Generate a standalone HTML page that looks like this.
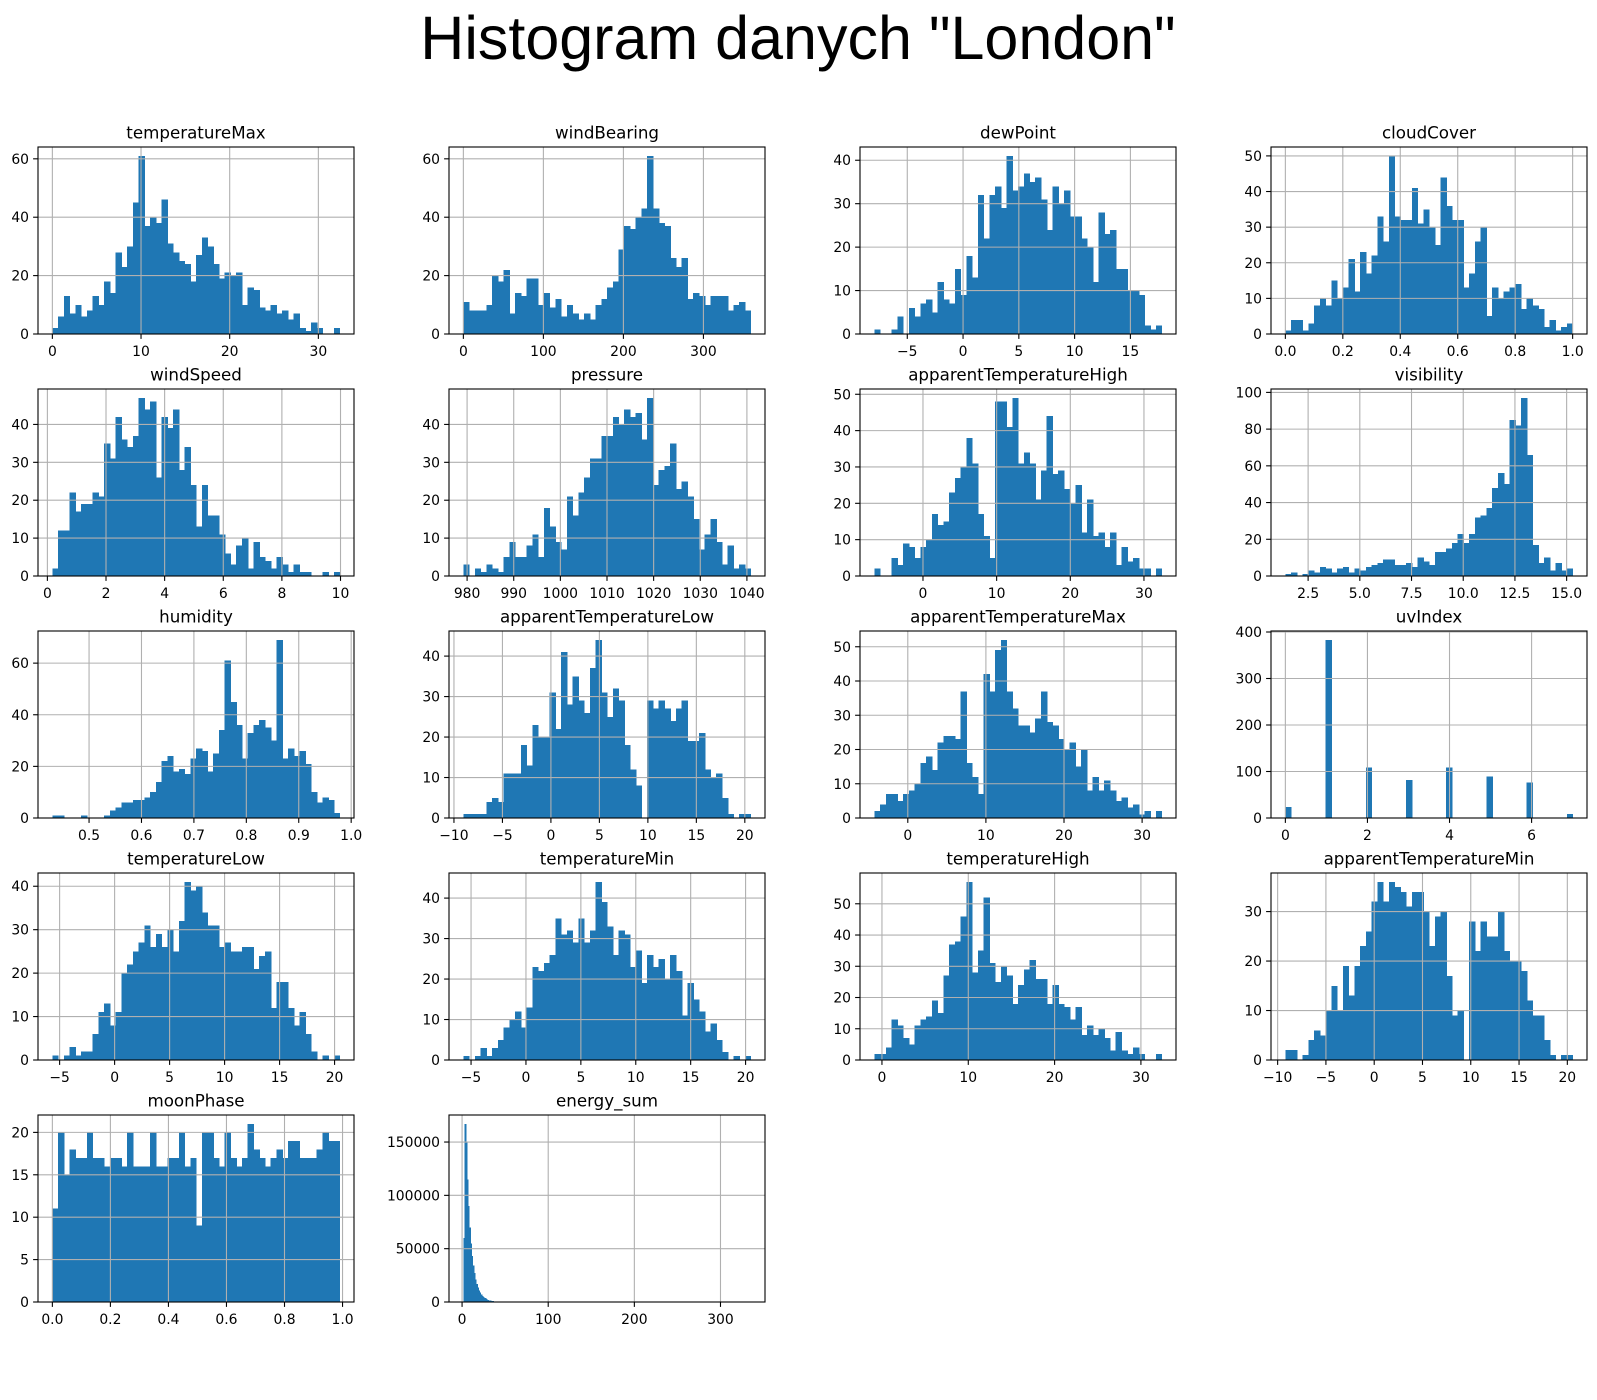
<!DOCTYPE html>
<html>
<head>
<meta charset="utf-8">
<style>
  html,body{margin:0;padding:0;background:#fff;}
  svg{display:block;}
  text{font-family:"DejaVu Sans","Liberation Sans",sans-serif;fill:#000;}
</style>
</head>
<body>
<svg id="fig" width="1597" height="1400" viewBox="0 0 1597 1400" xmlns="http://www.w3.org/2000/svg">
  <rect x="0" y="0" width="1597" height="1400" fill="#fff"/>
  <text x="798" y="59" text-anchor="middle" font-size="61" style="font-family:'Liberation Sans',sans-serif">Histogram danych "London"</text>
</svg>
<script>
// ---- data (counts per bin, bin range, ticks) ----
const titles = ["temperatureMax","windBearing","dewPoint","cloudCover","windSpeed","pressure","apparentTemperatureHigh","visibility","humidity","apparentTemperatureLow","apparentTemperatureMax","uvIndex","temperatureLow","temperatureMin","temperatureHigh","apparentTemperatureMin","moonPhase","energy_sum"];

const temperatureMaxCounts = [2,6,13,7,10,6,8,13,10,18,14,28,23,30,45,61,37,40,38,46,31,28,25,24,18,27,33,30,24,19,21,20,21,10,16,15,9,8,10,7,8,5,7,2,1,4,2,0,0,2];
const windBearingCounts = [11,8,8,8,10,20,18,22,7,14,13,19,19,10,14,9,12,6,10,7,5,7,5,10,12,16,18,29,37,36,40,43,61,43,38,37,26,23,26,12,14,13,10,13,13,13,8,10,11,8];
const dewPointCounts = [1,0,0,1,4,0,6,4,7,8,5,12,8,7,15,9,18,13,32,22,32,34,29,41,33,34,37,35,36,31,24,34,30,33,27,27,22,20,12,28,23,24,15,15,10,10,9,2,1,2];
const cloudCoverCounts = [1,4,4,1,3,8,10,8,15,10,13,21,12,23,17,22,33,26,50,33,32,32,41,31,35,30,25,44,36,32,32,13,17,26,30,5,13,10,12,13,14,7,10,8,7,2,4,1,2,3];
const windSpeedCounts = [2,12,12,22,17,19,19,22,21,35,31,42,36,34,37,47,44,46,26,42,39,44,28,34,24,13,24,16,16,11,6,3,8,10,2,9,5,4,2,5,3,1,3,1,1,0,0,1,0,1];
const pressureCounts = [3,0,2,1,3,2,1,5,9,5,5,8,11,5,18,13,9,7,21,16,22,26,31,31,37,37,42,40,44,42,43,36,47,24,28,29,35,23,25,21,15,7,11,15,9,3,8,2,3,2];
const apparentTemperatureHighCounts = [2,0,0,5,3,9,8,5,8,10,17,14,15,23,27,30,38,31,17,11,5,48,48,41,49,31,34,31,21,29,44,28,29,24,20,25,12,21,11,12,8,12,3,8,4,5,2,2,0,2];
const visibilityCounts = [1,2,0,1,3,2,5,4,2,4,5,2,4,3,5,6,7,9,9,6,6,7,5,10,8,6,13,13,15,18,23,18,23,32,33,37,48,56,50,85,82,97,66,17,7,10,3,7,3,4];
const humidityCounts = [1,1,0,0,0,1,0,0,0,1,3,4,6,6,7,7,8,10,14,22,24,18,19,17,23,27,26,18,25,34,61,45,36,23,33,36,38,35,30,69,23,27,24,26,21,10,6,8,7,2];
const apparentTemperatureLowCounts = [1,1,1,1,4,5,4,11,11,11,18,13,23,20,20,31,22,41,28,35,29,26,37,44,31,25,32,29,18,12,8,0,29,27,29,27,24,27,29,19,19,21,12,10,11,5,1,0,1,1];
const apparentTemperatureMaxCounts = [2,4,7,7,5,7,8,10,16,18,14,22,24,24,23,37,16,12,7,42,37,49,52,37,32,27,27,25,29,37,28,27,23,20,22,15,20,8,12,8,11,8,5,6,3,4,1,2,0,2];
const uvIndexCounts = [24,0,0,0,0,0,0,383,0,0,0,0,0,0,109,0,0,0,0,0,0,82,0,0,0,0,0,0,109,0,0,0,0,0,0,89,0,0,0,0,0,0,76,0,0,0,0,0,0,9];
const temperatureLowCounts = [1,0,1,3,1,2,2,6,11,13,8,11,20,22,25,27,31,26,29,26,30,25,32,41,39,40,34,31,31,26,27,25,25,26,26,21,24,25,12,18,18,12,8,11,6,2,0,1,0,1];
const temperatureMinCounts = [1,0,1,3,1,3,5,8,10,12,8,13,23,22,24,26,35,31,32,29,35,29,32,44,39,33,26,32,31,23,27,19,26,23,25,20,26,22,11,19,15,12,7,9,5,2,0,1,0,1];
const temperatureHighCounts = [2,2,4,13,11,7,5,11,13,14,19,15,27,37,38,46,57,28,35,52,31,25,30,27,18,24,29,32,26,26,18,24,18,17,13,17,8,11,8,10,7,3,9,3,2,4,2,0,0,2];
const apparentTemperatureMinCounts = [2,2,0,1,4,6,5,10,15,10,19,13,19,23,26,32,36,32,36,35,34,31,34,34,30,23,29,30,17,9,10,0,28,22,28,25,25,30,22,20,20,18,12,9,9,4,1,0,1,1];
const moonPhaseCounts = [11,20,15,18,17,17,20,17,17,16,17,17,16,20,16,16,16,20,16,16,17,17,20,16,17,9,20,20,17,16,20,17,16,17,21,18,17,16,17,18,17,19,19,17,17,17,18,20,19,19];
const energySumCounts = [60000,167000,150000,115000,90000,70000,55000,43000,34000,27000,21000,17000,13500,11000,9000,7200,5800,4700,3800,3100,2500,2000,1600,1300,1050,850,700,560,450,360,290,230,190,150,120,100,80,60,50,40,30,25,20,15,12,10,8,6,5,4];

const binLows  = [0,0,-7.95,0,0.17,979.2,-6.6,1.4,0.43,-9.03,-4.28,0,-5.66,-5.7,-0.88,-9.2,0,1.5];
const binHighs = [32.4,359,17.8,1,9.97,1040.8,32.4,15.29,0.978,20.6,32.5,7,20.46,20.46,32.4,20.55,0.99,335];
const binCountsTotal = [50,50,50,50,50,50,50,50,50,50,50,50,50,50,50,50,50,250];

const xTicks = [
  [0,10,20,30],[0,100,200,300],[-5,0,5,10,15],[0,0.2,0.4,0.6,0.8,1.0],
  [0,2,4,6,8,10],[980,990,1000,1010,1020,1030,1040],[0,10,20,30],[2.5,5,7.5,10,12.5,15],
  [0.5,0.6,0.7,0.8,0.9,1.0],[-10,-5,0,5,10,15,20],[0,10,20,30],[0,2,4,6],
  [-5,0,5,10,15,20],[-5,0,5,10,15,20],[0,10,20,30],[-10,-5,0,5,10,15,20],
  [0,0.2,0.4,0.6,0.8,1.0],[0,100,200,300]
];
const xTickDecimals = [0,0,0,1,0,0,0,1,1,0,0,0,0,0,0,0,1,0];
const yTicks = [
  [0,20,40,60],[0,20,40,60],[0,10,20,30,40],[0,10,20,30,40,50],
  [0,10,20,30,40],[0,10,20,30,40],[0,10,20,30,40,50],[0,20,40,60,80,100],
  [0,20,40,60],[0,10,20,30,40],[0,10,20,30,40,50],[0,100,200,300,400],
  [0,10,20,30,40],[0,10,20,30,40],[0,10,20,30,40,50],[0,10,20,30],
  [0,5,10,15,20],[0,50000,100000,150000]
];
const allCounts = [temperatureMaxCounts,windBearingCounts,dewPointCounts,cloudCoverCounts,windSpeedCounts,pressureCounts,apparentTemperatureHighCounts,visibilityCounts,humidityCounts,apparentTemperatureLowCounts,apparentTemperatureMaxCounts,uvIndexCounts,temperatureLowCounts,temperatureMinCounts,temperatureHighCounts,apparentTemperatureMinCounts,moonPhaseCounts,energySumCounts];

// ---- layout ----
const NS = "http://www.w3.org/2000/svg";
const svg = document.getElementById("fig");
const AX_L = 38, AX_W = 316, COL_PITCH = 411, AX_T = 147, AX_H = 187, ROW_PITCH = 242;

function mk(tag, attrs, parent){
  const e = document.createElementNS(NS, tag);
  for (const k in attrs) e.setAttribute(k, attrs[k]);
  parent.appendChild(e);
  return e;
}
function fmt(v, d){
  let s = v.toFixed(d);
  if (v < 0) s = "\u2212" + s.slice(1);
  return s;
}
function slug(s){ return s.replace(/([a-z])([A-Z])/g,"$1-$2").replace(/_/g,"-").toLowerCase(); }

titles.forEach((title, i) => {
  const col = i % 4, row = Math.floor(i / 4);
  const x0 = AX_L + col * COL_PITCH, y0 = AX_T + row * ROW_PITCH;
  const counts = allCounts[i];
  const nb = binCountsTotal[i];
  const lo = binLows[i], hi = binHighs[i];
  const span = hi - lo;
  const xmin = lo - span * 0.05, xmax = hi + span * 0.05;
  const ymax = Math.max(...counts) * 1.05;
  const sx = v => x0 + (v - xmin) / (xmax - xmin) * AX_W;
  const sy = v => y0 + AX_H - v / ymax * AX_H;
  const name = slug(title);

  const g = mk("g", {}, svg);
  
  

  const bg = mk("rect", {x:x0, y:y0, width:AX_W, height:AX_H, fill:"#fff"}, g);
  
  

  const bw = span / nb;
  counts.forEach((c, k) => {
    if (c <= 0) return;
    const a = sx(lo + k * bw), b = sx(lo + (k + 1) * bw);
    const r = mk("rect", {x:a.toFixed(2), y:sy(c).toFixed(2), width:(b - a + 0.6).toFixed(2), height:(sy(0) - sy(c)).toFixed(2), fill:"#1f77b4", "shape-rendering":"crispEdges"}, g);
    
    
  });

  xTicks[i].forEach(t => {
    const x = sx(t);
    const gl = mk("line", {x1:x, x2:x, y1:y0, y2:y0 + AX_H, stroke:"#b0b0b0", "stroke-width":1.1}, g);
    
    
    const tk = mk("line", {x1:x, x2:x, y1:y0 + AX_H, y2:y0 + AX_H + 4.9, stroke:"#000", "stroke-width":1.1}, g);
    
    
    const tl = mk("text", {x:x, y:y0 + AX_H + 22, "text-anchor":"middle", "font-size":13.9}, g);
    tl.textContent = fmt(t, xTickDecimals[i]);
    
    
  });
  yTicks[i].forEach(t => {
    const y = sy(t);
    const gl = mk("line", {x1:x0, x2:x0 + AX_W, y1:y, y2:y, stroke:"#b0b0b0", "stroke-width":1.1}, g);
    
    
    const tk = mk("line", {x1:x0 - 4.9, x2:x0, y1:y, y2:y, stroke:"#000", "stroke-width":1.1}, g);
    
    
    const tl = mk("text", {x:x0 - 9, y:y + 5, "text-anchor":"end", "font-size":13.9}, g);
    tl.textContent = String(t);
    
    
  });

  const fr = mk("rect", {x:x0, y:y0, width:AX_W, height:AX_H, fill:"none", stroke:"#000", "stroke-width":1.1}, g);
  
  

  const tt = mk("text", {x:x0 + AX_W / 2, y:y0 - 8.5, "text-anchor":"middle", "font-size":16.7}, g);
  tt.textContent = title;
  
  
});
</script>
</body>
</html>
